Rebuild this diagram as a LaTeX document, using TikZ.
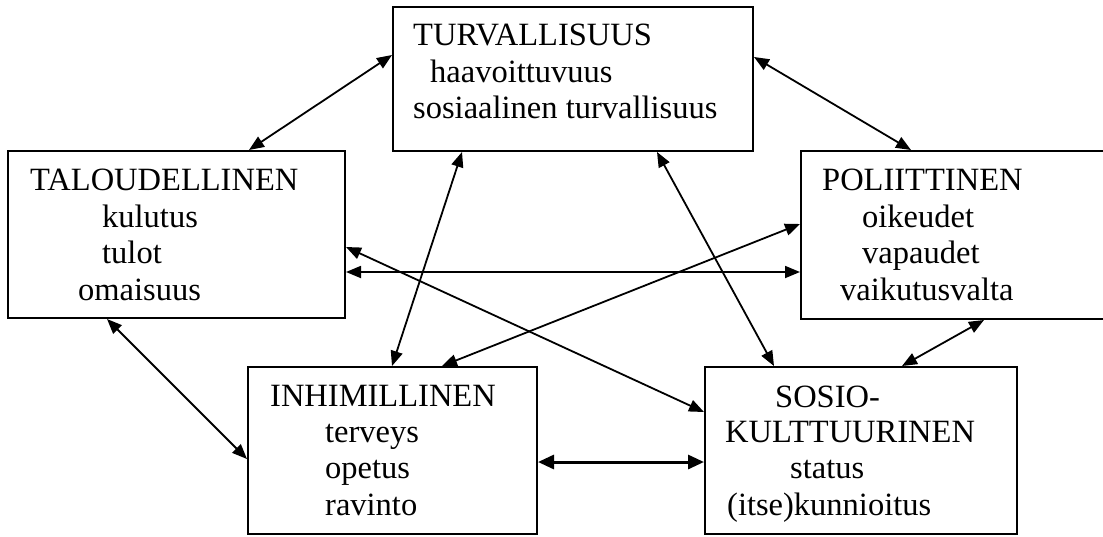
\documentclass[tikz,border=0pt]{standalone}
\usepackage{fontspec}
\setmainfont{Liberation Serif}
\usetikzlibrary{arrows.meta,calc}
\tikzset{
  box/.style={draw, line width=2pt, rectangle, inner sep=0pt},
  lbl/.style={anchor=base west, inner sep=0pt, font=\fontsize{32.5}{37}\selectfont},
  link/.style={line width=1.8pt, {Triangle[length=15pt,width=12pt]}-{Triangle[length=15pt,width=12pt]}},
  boldlink/.style={line width=3pt, {Triangle[length=16pt,width=14pt]}-{Triangle[length=16pt,width=14pt]}}
}
\begin{document}
\begin{tikzpicture}[x=1pt,y=-1pt]
\clip (0,0) rectangle (1103,536);
\fill[white] (0,0) rectangle (1103,536);
% boxes
\node[box, minimum width=360pt, minimum height=144pt] (turv) at (573,79) {};
\node[box, minimum width=337pt, minimum height=167pt] (talo) at (176.5,234.5) {};
\node[box, minimum width=319pt, minimum height=168pt] (poli) at (960.5,235) {};
\node[box, minimum width=289pt, minimum height=167pt] (inhi) at (392.5,450.5) {};
\node[box, minimum width=312pt, minimum height=167pt] (sosi) at (861,450.5) {};
% texts
\node[lbl] (t1) at (413,45) {TURVALLISUUS};
\node[lbl] (t2) at (430,82) {haavoittuvuus};
\node[lbl] (t3) at (413,118) {sosiaalinen turvallisuus};
\node[lbl] (a1) at (30,190) {TALOUDELLINEN};
\node[lbl] (a2) at (102,227) {kulutus};
\node[lbl] (a3) at (102,263) {tulot};
\node[lbl] (a4) at (78,300) {omaisuus};
\node[lbl] (p1) at (822,190) {POLIITTINEN};
\node[lbl] (p2) at (862,227) {oikeudet};
\node[lbl] (p3) at (862,263) {vapaudet};
\node[lbl] (p4) at (840,300) {vaikutusvalta};
\node[lbl] (i1) at (270,406) {INHIMILLINEN};
\node[lbl] (i2) at (325,442) {terveys};
\node[lbl] (i3) at (325,478) {opetus};
\node[lbl] (i4) at (325,515) {ravinto};
\node[lbl] (s1) at (775,407) {SOSIO-};
\node[lbl] (s2) at (725,442) {KULTTUURINEN};
\node[lbl] (s3) at (790,478) {status};
\node[lbl] (s4) at (727,515) {(itse)kunnioitus};
% connectors
\draw[link] ($(turv.north west)+(0,49)$) -- ($(talo.north west)+(242,0)$);
\draw[link] ($(turv.north east)+(0,51)$) -- ($(poli.north west)+(111,0)$);
\draw[link] ($(turv.south west)+(70,0)$) -- ($(inhi.north west)+(145,0)$);
\draw[link] ($(turv.south west)+(265,0)$) -- ($(sosi.north west)+(70,0)$);
\draw[link] ($(talo.north east)+(0,122)$) -- ($(poli.north west)+(0,122)$);
\draw[link] ($(talo.north east)+(0,97)$) -- ($(sosi.north west)+(0,46)$);
\draw[link] ($(poli.north west)+(0,74)$) -- ($(inhi.north west)+(195,0)$);
\draw[link] ($(talo.south west)+(100,0)$) -- ($(inhi.north west)+(0,93)$);
\draw[boldlink] ($(inhi.north east)+(0,96)$) -- ($(sosi.north west)+(0,96)$);
\draw[link] ($(poli.south west)+(184,0)$) -- ($(sosi.north west)+(198,0)$);
\end{tikzpicture}
\end{document}
